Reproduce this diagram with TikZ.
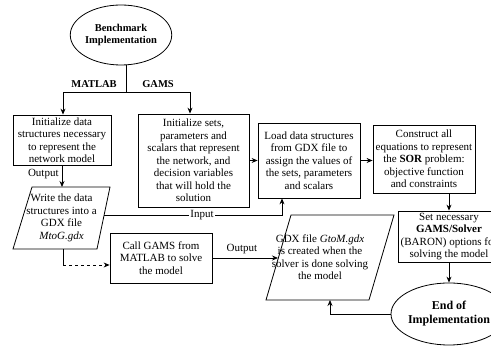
\documentclass[tikz,border=0pt]{standalone}
\usepackage{fontspec}
\setmainfont{Liberation Serif}
\usetikzlibrary{shapes.geometric,arrows.meta}
\begin{document}
\begin{tikzpicture}[x=1pt,y=-1pt,
  line width=0.8pt,
  arr/.style={-{Stealth[length=6pt,width=5pt]}},
  txt/.style={font=\fontsize{11}{12.5}\selectfont},
  boxn/.style={draw,rectangle,align=center,inner sep=1pt,txt},
  ovaln/.style={draw,ellipse,align=center,inner sep=0pt},
  lbl/.style={inner sep=1pt,txt},
  blbl/.style={inner sep=1pt,font=\fontsize{10.5}{12}\selectfont\bfseries}]
\useasboundingbox (0,0) rectangle (491,347);
\clip (0,0) rectangle (491,347);

% start
\node[ovaln,minimum width=90pt,minimum height=60pt,font=\fontsize{10.5}{12.5}\selectfont\bfseries] (start) at (121,35) {Benchmark\\Implementation};
\coordinate (split) at (126,92);
\node[blbl] (matlab) at (94,84) {MATLAB};
\node[blbl] (gams) at (158,84) {GAMS};

% boxes
\node[boxn,minimum width=98pt,minimum height=50pt] (box1) at (62,140) {Initialize data\\structures necessary\\to represent the\\network model};
\node[boxn,minimum width=111pt,minimum height=93pt] (box2) at (193.5,160.5) {Initialize sets,\\parameters and\\scalars that represent\\the network, and\\decision variables\\that will hold the\\solution};
\node[boxn,minimum width=102pt,minimum height=75pt] (load) at (309,160.5) {Load data structures\\from GDX file to\\assign the values of\\the sets, parameters\\and scalars};
\node[boxn,minimum width=102pt,minimum height=68pt] (cons) at (424,159) {Construct all\\equations to represent\\the \textbf{SOR} problem:\\objective function\\and constraints};
\node[boxn,minimum width=102pt,minimum height=51pt] (set) at (449,236.5) {Set necessary\\\textbf{GAMS/Solver}\\(BARON) options for\\solving the model};
\node[boxn,minimum width=102pt,minimum height=50pt] (call) at (161,258) {Call GAMS from\\MATLAB to solve\\the model};
\node[ovaln,minimum width=104pt,minimum height=62pt,font=\fontsize{12}{14}\selectfont\bfseries] (end) at (449,314) {End of\\Implementation};

% parallelogram 1
\coordinate (p1tl) at (32,187);
\coordinate (p1tr) at (110,187);
\coordinate (p1br) at (97,249);
\coordinate (p1bl) at (13,249);
\draw (p1tl) -- (p1tr) -- (p1br) -- (p1bl) -- cycle;
\node[align=center,inner sep=0pt,txt] (para1) at (61.5,218) {Write the data\\structures into a\\GDX file\\\textit{MtoG.gdx}};
\coordinate (p1top) at (62,187);
\coordinate (p1bot) at (63,249);
\coordinate (p1right) at (104,215);

% parallelogram 2
\coordinate (p2tl) at (291,215);
\coordinate (p2tr) at (394,215);
\coordinate (p2br) at (369,300);
\coordinate (p2bl) at (266,300);
\draw (p2tl) -- (p2tr) -- (p2br) -- (p2bl) -- cycle;
\node[align=center,inner sep=0pt,txt] (para2) at (320,257) {GDX file \textit{GtoM.gdx}\\is created when the\\solver is done solving\\the model};
\coordinate (p2left) at (278,258);
\coordinate (p2bot) at (330,300);

% connectors
\draw ([xshift=5pt]start.south) -- (split);
\draw[arr] (split) -| ([xshift=1pt]box1.north);
\draw[arr] (split) -| ([xshift=-3.5pt]box2.north);
\draw[arr] (box1.south) -- (p1top);
\node[lbl,anchor=east] (out1) at (60,174) {Output};
\draw[arr] (box2.east) -- (load.west);
\draw[arr] (load.east) -- (load.east -| cons.west);
\draw[arr] (cons.south -| set.north) -- (set.north);
\draw[arr] (set.south) -- (end.north);
\coordinate (inturn) at (282,215);
\draw[arr] (p1right) -- (inturn) -- (inturn |- load.south);
\node[lbl,fill=white] (input) at (202,215) {Input};
\coordinate (dturn) at (63,265);
\draw (p1bot) -- (dturn);
\draw[arr,dashed] (dturn) -- (dturn -| call.west);
\draw[arr] (call.east |- p2left) -- (p2left);
\node[lbl,anchor=south] (out2) at (242,255) {Output};
\draw[arr] (end.west) -| (p2bot);
\end{tikzpicture}
\end{document}
